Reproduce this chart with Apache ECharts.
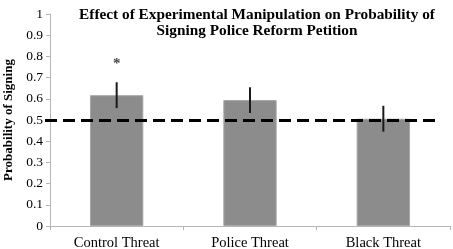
<!DOCTYPE html>
<html>
<head>
<meta charset="utf-8">
<script src="https://cdn.jsdelivr.net/npm/echarts@6/dist/echarts.min.js"></script>
<style>
  html, body { margin: 0; padding: 0; background: #fff; }
  #chart { width: 453px; height: 249px; }
</style>
</head>
<body>
<div id="chart"></div>
<script>
// data
const conditions = ['Control Threat', 'Police Threat', 'Black Threat'];
const probSigning = [0.617, 0.594, 0.506];
const errHalf = [0.061, 0.061, 0.061];
const starMarks = ['*', '', ''];
const starLevel = [0.765, null, null];
const chanceLevel = 0.5;

const font = '"Liberation Serif", "Times New Roman", serif';

const chart = echarts.init(document.getElementById('chart'));

const option = {
  backgroundColor: '#fff',
  animation: false,
  title: {
    text: 'Effect of Experimental Manipulation on Probability of\nSigning Police Reform Petition',
    left: 252,
    top: 2,
    textAlign: 'center',
    textStyle: {
      fontFamily: font,
      fontWeight: 'bold',
      fontSize: 15.3,
      lineHeight: 16,
      color: '#000'
    }
  },
  grid: { left: 50, right: 3, top: 14, bottom: 23, containLabel: false, outerBoundsMode: 'none' },
  xAxis: {
    type: 'category',
    data: conditions,
    axisLine: { lineStyle: { color: '#b5b5b5', width: 1 } },
    axisTick: { show: true, length: 4, lineStyle: { color: '#b5b5b5' } },
    axisLabel: { fontFamily: font, fontSize: 14.5, color: '#000', margin: 10 }
  },
  yAxis: {
    type: 'value',
    min: 0,
    max: 1,
    interval: 0.1,
    name: 'Probability of Signing',
    nameLocation: 'middle',
    nameGap: 33,
    nameTextStyle: { fontFamily: font, fontWeight: 'bold', fontSize: 13, color: '#000' },
    axisLine: { show: true, lineStyle: { color: '#b5b5b5', width: 1 } },
    axisTick: { show: true, length: 4, lineStyle: { color: '#b5b5b5' } },
    axisLabel: {
      fontFamily: font, fontSize: 13.5, color: '#000', margin: 7,
      formatter: v => String(Math.round(v * 10) / 10)
    },
    splitLine: { show: false }
  },
  series: [
    {
      type: 'bar',
      data: probSigning,
      barWidth: '40%',
      itemStyle: { color: '#8c8c8c', borderColor: '#a6a6a6', borderWidth: 1 },
      markLine: {
        silent: true,
        symbol: 'none',
        label: { show: false },
        lineStyle: { color: '#000', type: [12, 6], width: 3 },
        data: [[{ x: 45, yAxis: chanceLevel }, { x: 437, yAxis: chanceLevel }]]
      },
      z: 2
    },
    {
      // error bars, no caps
      type: 'custom',
      data: probSigning.map((v, i) => [i, v - errHalf[i], v + errHalf[i]]),
      renderItem: (params, api) => {
        const lo = api.coord([api.value(0), api.value(1)]);
        const hi = api.coord([api.value(0), api.value(2)]);
        return {
          type: 'line',
          shape: { x1: lo[0], y1: lo[1], x2: hi[0], y2: hi[1] },
          style: { stroke: '#1a1a1a', lineWidth: 2 }
        };
      },
      z: 5
    },
    {
      // significance marker
      type: 'scatter',
      data: starLevel.map((v, i) => (v == null ? null : [i, v])),
      symbolSize: 0,
      label: {
        show: true,
        position: 'inside',
        formatter: p => starMarks[p.dataIndex],
        fontFamily: font,
        fontWeight: 'bold',
        fontSize: 15,
        color: '#111'
      },
      z: 6
    }
  ]
};

chart.setOption(option);
</script>
</body>
</html>
